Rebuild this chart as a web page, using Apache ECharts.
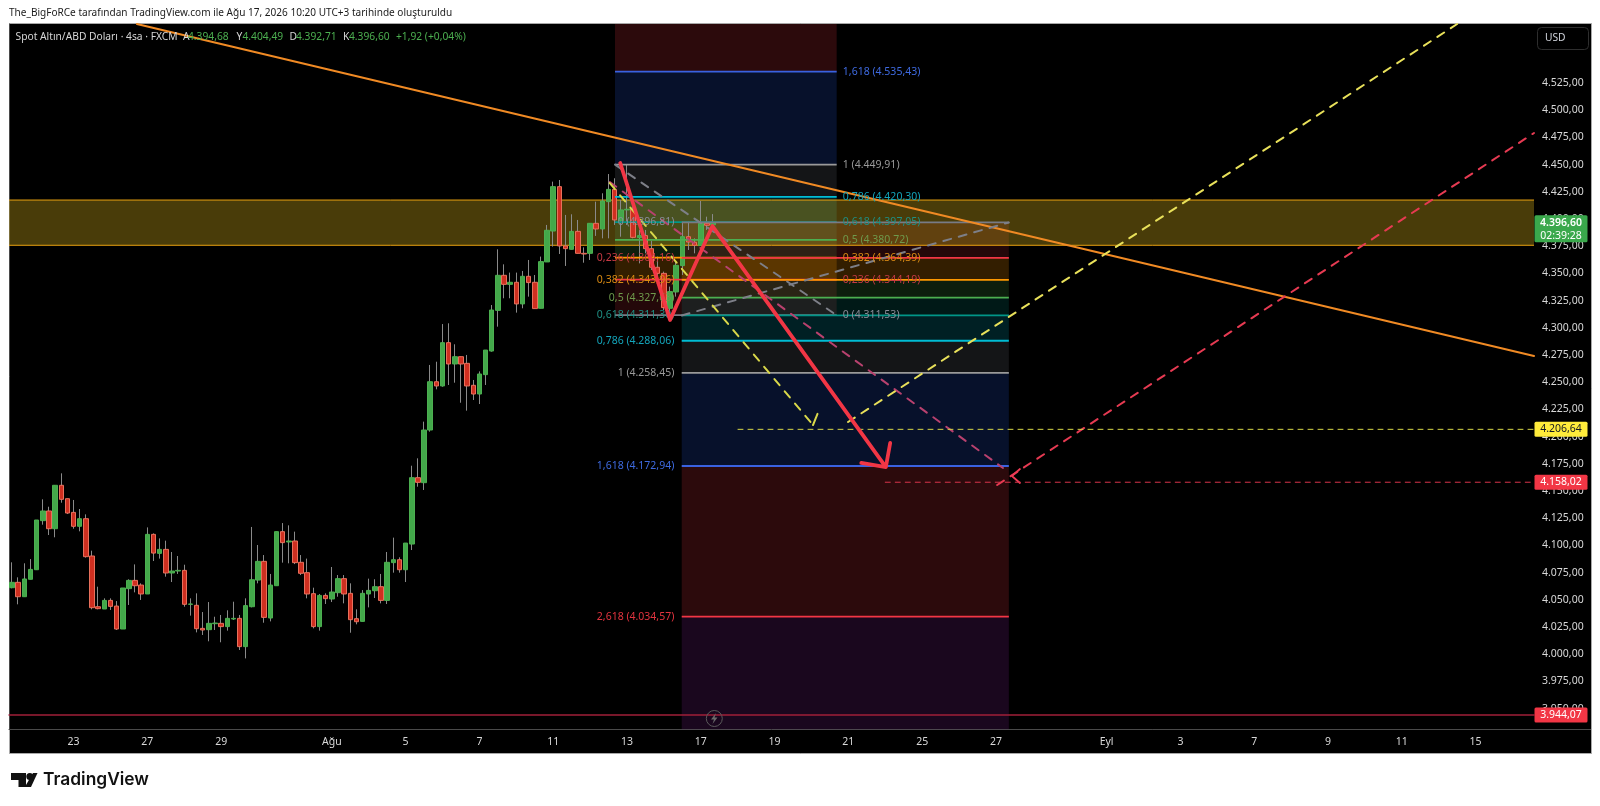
<!DOCTYPE html>
<html><head><meta charset="utf-8">
<style>html,body{margin:0;padding:0;background:#fff}#c{width:1600px;height:806px}</style>
<script src="https://cdn.jsdelivr.net/npm/echarts@6/dist/echarts.min.js"></script>
</head><body><div id="c"></div>
<script>
// ---- data ----
const barCount = 248;
const tickBars = [10,22,34,52,64,76,88,100,112,124,136,148,160,178,190,202,214,226,238];
const tickLabels = ['23','27','29','Ağu','5','7','11','13','17','19','21','25','27','Eyl','3','7','9','11','15'];
const priceTicks = [3950,3975,4000,4025,4050,4075,4100,4125,4150,4175,4200,4225,4250,4275,4300,4325,4350,4375,4400,4425,4450,4475,4500,4525];
const opens = [4061.1,4066.0,4052.8,4068.8,4077.6,4122.7,4131.6,4115.3,4155.2,4142.9,
4130.3,4117.5,4124.5,4090.2,4043.6,4041.5,4049.4,4044.2,4023.1,4060.2,
4067.8,4063.5,4055.3,4110.1,4092.6,4096.3,4074.6,4076.4,4077.0,4045.8,
4044.9,4023.7,4022.5,4028.0,4028.3,4025.3,4032.3,4032.9,4006.9,4043.6,
4068.1,4085.3,4033.2,4062.9,4112.6,4103.1,4104.0,4084.4,4074.9,4055.6,
4025.3,4054.0,4050.7,4056.5,4069.4,4055.9,4032.6,4030.1,4055.3,4058.3,
4062.0,4049.4,4084.1,4086.8,4077.6,4101.2,4162.2,4157.6,4206.0,4250.4,
4246.5,4286.3,4266.7,4273.4,4267.3,4247.1,4239.1,4256.9,4278.6,4316.0,
4348.2,4339.9,4341.8,4321.9,4347.3,4341.8,4317.9,4360.5,4388.9,4429.7,
4375.2,4372.1,4388.6,4368.4,4368.4,4396.0,4390.8,4415.9,4427.2,4398.5,
4408.3,4408.9,4382.8,4384.7,4372.7,4355.6,4350.0,4317.9,4332.9,4357.1,
4383.7,4378.6,4375.5,4396.0,4394.68];
const highs = [4084.4,4070.6,4083.5,4087.4,4123.3,4142.3,4135.5,4155.2,4166.2,4142.9,
4141.7,4133.4,4128.5,4095.1,4062.0,4051.3,4051.3,4048.8,4060.8,4068.8,
4082.5,4065.1,4116.5,4111.0,4106.4,4104.3,4093.9,4090.2,4082.2,4051.3,
4055.9,4038.7,4047.9,4034.4,4036.0,4040.3,4048.2,4036.0,4051.3,4116.9,
4100.3,4091.1,4073.7,4112.6,4120.5,4118.4,4112.6,4091.1,4087.8,4061.1,
4055.3,4055.9,4080.1,4072.7,4072.7,4065.1,4041.2,4058.9,4069.4,4068.8,
4073.7,4093.9,4107.1,4089.0,4102.1,4173.2,4180.0,4213.7,4265.8,4268.8,
4303.4,4304.1,4284.8,4273.4,4275.0,4252.0,4259.9,4279.5,4320.9,4372.1,
4358.3,4350.7,4350.7,4352.2,4362.3,4348.5,4365.4,4394.5,4434.3,4435.8,
4403.7,4404.3,4399.1,4373.9,4396.0,4415.9,4423.6,4441.3,4437.4,4417.4,
4449.6,4420.5,4389.9,4389.9,4380.0,4365.4,4351.6,4337.8,4360.8,4397.5,
4397.5,4382.2,4416.5,4402.1,4404.49];
const lows = [4060.5,4045.8,4052.8,4068.8,4077.6,4119.0,4109.5,4107.4,4139.2,4128.8,
4115.3,4112.9,4088.7,4041.2,4041.2,4041.5,4040.6,4022.2,4023.1,4045.2,
4056.8,4049.8,4055.3,4085.6,4087.8,4071.2,4066.3,4073.7,4043.6,4035.4,
4020.0,4017.6,4011.8,4022.2,4010.9,4021.6,4031.4,4003.8,3996.1,4043.0,
4065.1,4028.9,4030.1,4062.9,4084.1,4083.5,4082.8,4072.7,4051.3,4023.7,
4021.6,4046.1,4047.9,4052.8,4046.7,4019.7,4027.4,4030.1,4043.0,4051.6,
4046.7,4046.1,4074.9,4074.9,4066.3,4095.7,4153.9,4150.9,4204.5,4243.4,
4245.8,4247.4,4249.5,4231.1,4223.8,4233.6,4229.9,4247.4,4278.0,4301.0,
4327.1,4327.1,4313.9,4317.9,4328.6,4317.6,4317.9,4360.5,4374.6,4367.8,
4356.8,4372.1,4368.4,4359.8,4362.3,4384.4,4382.2,4382.2,4394.5,4383.7,
4394.5,4382.2,4359.2,4368.4,4353.1,4340.9,4316.3,4311.5,4328.6,4348.5,
4371.5,4368.4,4375.5,4389.9,4392.71];
const closes = [4066.0,4052.8,4069.1,4077.9,4123.3,4131.6,4115.3,4155.2,4142.3,4129.7,
4117.5,4124.5,4089.6,4042.7,4041.8,4049.4,4043.9,4023.1,4060.8,4067.8,
4062.9,4055.3,4110.1,4092.9,4096.3,4074.6,4076.4,4077.0,4045.8,4046.1,
4023.4,4022.2,4028.3,4028.6,4025.3,4032.9,4032.9,4006.9,4044.6,4068.4,
4085.3,4033.8,4063.5,4112.6,4102.5,4104.0,4084.1,4074.3,4055.3,4025.3,
4054.0,4051.0,4057.1,4069.4,4055.3,4031.7,4029.8,4055.9,4058.6,4062.0,
4049.4,4084.4,4086.8,4077.6,4102.1,4162.2,4157.9,4206.0,4250.4,4246.5,
4286.3,4266.7,4273.4,4266.7,4246.5,4239.1,4257.5,4279.5,4316.3,4348.2,
4339.9,4341.8,4321.9,4347.3,4341.5,4317.6,4360.8,4389.6,4429.7,4375.2,
4372.7,4388.6,4368.4,4367.8,4396.0,4390.8,4416.5,4427.2,4399.1,4408.3,
4408.9,4383.1,4384.7,4372.7,4355.6,4350.0,4318.5,4333.2,4357.4,4383.7,
4378.8,4375.8,4396.0,4394.2,4396.60];

// Fibonacci tools: levels and prices
const fibLeftLevels = [0,0.236,0.382,0.5,0.618,0.786,1,1.618];
const fibLeftPrices = [4311.53,4344.19,4364.39,4380.72,4397.05,4420.30,4449.91,4535.43];
const fibRightLevels = [0,0.236,0.382,0.5,0.618,0.786,1,1.618,2.618];
const fibRightPrices = [4396.81,4364.16,4343.96,4327.63,4311.30,4288.06,4258.45,4172.94,4034.57];
const fibLeftSpan = [98.55,134.6];
const fibRightSpan = [109.4,162.6];

// Drawn lines as [bar, price]
const priceMin = 3930.74, priceMax = 4579.2;
const zoneBand = [4375.8,4417.4];
const supportPrice = 3944.07;
const targetYellow = 4206.64, targetRed = 4158.02, lastPrice = 4396.60;
const orangeTrend = [[20.8,4579.2],[248,4274.0]];
const grayFall = [[98.55,4449.91],[134.6,4311.53]];
const grayRise = [[109.4,4311.3],[162.6,4396.81]];
const pinkFall = [[97.7,4433.9],[161.65,4171.1]];
const yellowFall = [[97.7,4433.0],[130.75,4210.6],[131.6,4222.5],[130.75,4210.6],[129.45,4210.6]];
const yellowRise = [[136.45,4213.4],[235.5,4579.2]];
const redRise = [[160.7,4155.5],[248,4479.0]];
const redHook = [[164.4,4170.2],[163.1,4163.7],[164.4,4157.3]];
const yellowLevel = [[118.55,targetYellow],[248,targetYellow]];
const redLevel = [[142.5,targetRed],[248,targetRed]];
const supportLine = [[0,supportPrice],[248,supportPrice]];
const mainPath = [[99.4,4451.4],[107.5,4307.1],[114.4,4393.5],[142.6,4172],[143.3,4194.1],[142.6,4172],[138.6,4175.7]];

// ---- helpers / styles ----
const FONT = '"Noto Sans", sans-serif';
const fmt = v => { const [a,b] = v.toFixed(2).split('.'); return a.replace(/\B(?=(\d{3})+$)/g,'.') + ',' + b; };
const lvl = v => String(v).replace('.',',');
const categories = Array.from({length:barCount},(_,i)=>{ const k=tickBars.indexOf(i); return k>=0?tickLabels[k]:'b'+i; });
const levelColors = ['#787b86','#f23645','#ff9800','#4caf50','#009688','#00bcd4','#9a9a9a','#3a62e0','#f23645'];
const labelColors = ['#8a8d98','#c73a44','#d98a12','#6f9a4c','#1f8f84','#13a5bb','#9a9a9a','#3e6ae0','#e2343f'];
const bandFills = ['rgba(242,54,69,.15)','rgba(255,152,0,.2)','rgba(76,175,80,.17)','rgba(0,150,136,.17)','rgba(0,188,212,.17)','rgba(120,123,134,.17)','rgba(41,98,255,.17)','rgba(242,54,69,.18)','rgba(156,39,176,.17)'];

const bands=[], bandColor=[];
fibLeftPrices.forEach((p,i)=>{ const next = i+1<fibLeftPrices.length?fibLeftPrices[i+1]:priceMax; bands.push([fibLeftSpan[0],fibLeftSpan[1],p,next]); bandColor.push(bandFills[i]); });
fibRightPrices.forEach((p,i)=>{ const next = i+1<fibRightPrices.length?fibRightPrices[i+1]:priceMin; bands.push([fibRightSpan[0],fibRightSpan[1],p,next]); bandColor.push(bandFills[i]); });

const levelLines=[], levelColor=[];
fibLeftPrices.forEach((p,i)=>{ levelLines.push([fibLeftSpan[0],fibLeftSpan[1],p]); levelColor.push(levelColors[i]); });
fibRightPrices.forEach((p,i)=>{ levelLines.push([fibRightSpan[0],fibRightSpan[1],p]); levelColor.push(levelColors[i]); });

const fibLabels=[];
fibLeftPrices.forEach((p,i)=>fibLabels.push({value:[135.6,p],name:lvl(fibLeftLevels[i])+' ('+fmt(p)+')',al:'left',col:labelColors[i]}));
fibRightPrices.forEach((p,i)=>fibLabels.push({value:[108.2,p],name:lvl(fibRightLevels[i])+' ('+fmt(p)+')',al:'right',col:labelColors[i]}));

const tags = [
 {p:targetYellow,bg:'#ffeb3b',fg:'#131722'},
 {p:targetRed,bg:'#f23645',fg:'#ffffff'},
 {p:supportPrice,bg:'#f23645',fg:'#ffffff'},
 {p:lastPrice,bg:'#3aa84c',fg:'#ffffff',sub:'02:39:28'}
];

const lineSeries = (name,data,color,width,dash,z) => ({
  type:'line',name,xAxisIndex:1,yAxisIndex:0,data,symbol:'none',silent:true,animation:false,z:z||4,
  lineStyle:{color,width,type:dash||'solid',cap:'round',join:'round'}
});

const option = {
  animation:false,
  backgroundColor:'#ffffff',
  title:{text:'The_BigFoRCe tarafından TradingView.com ile Ağu 17, 2026 10:20 UTC+3 tarihinde oluşturuldu',left:9,top:6,padding:0,
    textStyle:{color:'#1b1b1b',fontFamily:FONT,fontSize:10.05,fontWeight:'normal',lineHeight:14}},
  tooltip:{show:false},
  grid:{left:9,right:66,top:24,bottom:76.5,containLabel:false},
  xAxis:[
    {type:'category',data:categories,position:'bottom',
     axisLine:{show:true,lineStyle:{color:'#4a4a4a',width:1}},axisTick:{show:false},splitLine:{show:false},
     axisLabel:{color:'#d8d8d8',fontFamily:FONT,fontSize:10.5,margin:7,hideOverlap:false,
       interval:i=>tickBars.indexOf(i)>=0}},
    {type:'value',min:0,max:barCount,show:false,splitLine:{show:false}}
  ],
  yAxis:[{type:'value',position:'right',min:priceMin,max:priceMax,scale:true,
    axisLine:{show:true,lineStyle:{color:'#4a4a4a',width:1}},axisTick:{show:false},splitLine:{show:false},
    axisLabel:{color:'#d8d8d8',fontFamily:FONT,fontSize:10.5,margin:8,customValues:priceTicks,formatter:v=>fmt(v),showMinLabel:true,showMaxLabel:true}}],
  graphic:{elements:[
    {type:'rect',z:-10,silent:true,shape:{x:9.5,y:23.5,width:1582,height:730},style:{fill:'#000000',stroke:'#a8a8a8',lineWidth:1}},
    {type:'line',z:-5,silent:true,shape:{x1:1534,y1:729.5,x2:1591,y2:729.5},style:{stroke:'#4a4a4a',lineWidth:1}},
    {type:'rect',z:-5,silent:true,shape:{x:1537.5,y:27.5,width:51,height:22,r:4},style:{fill:'#000',stroke:'#2e2e2e',lineWidth:1}},
    {type:'text',z:-4,silent:true,style:{x:1545,y:38.5,text:'USD',fill:'#d1d4dc',font:'10.25px '+FONT,verticalAlign:'middle'}},
    {type:'text',z:20,silent:true,style:{x:15.5,y:37,text:'Spot Altın/ABD Doları · 4sa · FXCM',fill:'#d6d6d6',font:'10.25px '+FONT,verticalAlign:'middle'}},
    ...[['A',183,'#d6d6d6'],['4.394,68',188,'#4caf50'],['Y',236.5,'#d6d6d6'],['4.404,49',242.5,'#4caf50'],['D',289.5,'#d6d6d6'],['4.392,71',296,'#4caf50'],['K',343,'#d6d6d6'],['4.396,60',349,'#4caf50'],['+1,92 (+0,04%)',396,'#4caf50']]
      .map(([t,x,c])=>({type:'text',z:20,silent:true,style:{x,y:37,text:t,fill:c,font:'10.25px '+FONT,verticalAlign:'middle'}})),
    {type:'circle',z:20,silent:true,shape:{cx:714.3,cy:718.5,r:8},style:{fill:'rgba(0,0,0,0)',stroke:'#5a5a5a',lineWidth:1}},
    {type:'polygon',z:20,silent:true,shape:{points:[[716,713],[711,719.5],[714,719.5],[712.5,724],[717.5,717.5],[714.5,717.5]]},style:{fill:'#6a6a6a'}},
    {type:'polygon',silent:true,shape:{points:[[11,773],[26,773],[26,787],[18.5,787],[18.5,780],[11,780]]},style:{fill:'#111'}},
    {type:'circle',silent:true,shape:{cx:29.8,cy:776.6,r:3.5},style:{fill:'#111'}},
    {type:'polygon',silent:true,shape:{points:[[33,773],[37.5,773],[31,787],[24.8,787]]},style:{fill:'#111'}},
    {type:'text',silent:true,style:{x:43,y:780,text:'TradingView',fill:'#111',font:'600 17.4px Inter, '+FONT,verticalAlign:'middle'}}
  ]},
  series:[
    {type:'custom',name:'fib bands',xAxisIndex:1,yAxisIndex:0,z:1,silent:true,clip:true,data:bands,
     renderItem:(params,api)=>{
       const a=api.coord([api.value(0),api.value(2)]), b=api.coord([api.value(1),api.value(3)]);
       return {type:'rect',shape:{x:a[0],y:Math.min(a[1],b[1]),width:b[0]-a[0],height:Math.abs(b[1]-a[1])},style:{fill:bandColor[params.dataIndex]}};
     }},
    {type:'custom',name:'zone',xAxisIndex:1,yAxisIndex:0,z:1,silent:true,data:[[0,barCount,zoneBand[0],zoneBand[1]]],
     renderItem:(params,api)=>{
       const a=api.coord([api.value(0),api.value(3)]), b=api.coord([api.value(1),api.value(2)]);
       return {type:'group',children:[
         {type:'rect',shape:{x:a[0],y:a[1],width:b[0]-a[0],height:b[1]-a[1]},style:{fill:'rgba(236,195,30,.31)'}},
         {type:'line',shape:{x1:a[0],y1:a[1],x2:b[0],y2:a[1]},style:{stroke:'#e8a010',lineWidth:1}},
         {type:'line',shape:{x1:a[0],y1:b[1],x2:b[0],y2:b[1]},style:{stroke:'#e8a010',lineWidth:1}}
       ]};
     }},
    // wicks
    {type:'candlestick',name:'wicks',xAxisIndex:0,yAxisIndex:0,z:3,silent:true,barWidth:1,
     data:opens.map((o,i)=>[o,closes[i],lows[i],highs[i]]),
     itemStyle:{color:'#8a8a8a',color0:'#8a8a8a',borderColor:'#8a8a8a',borderColor0:'#8a8a8a',borderColorDoji:'#8a8a8a',borderWidth:1}},
    // bodies
    {type:'candlestick',name:'XAUUSD 4h',xAxisIndex:0,yAxisIndex:0,z:3,silent:true,barWidth:5,
     data:opens.map((o,i)=>[o,closes[i],Math.min(o,closes[i]),Math.max(o,closes[i])]),
     itemStyle:{color:'#43a84a',color0:'#cf2f20',borderColor:'#4caf50',borderColor0:'#e8705c',borderColorDoji:'#a0b8a0',borderWidth:1}},
    {type:'custom',name:'fib levels',xAxisIndex:1,yAxisIndex:0,z:4,silent:true,data:levelLines,
     renderItem:(params,api)=>{
       const a=api.coord([api.value(0),api.value(2)]), b=api.coord([api.value(1),api.value(2)]);
       return {type:'line',shape:{x1:a[0],y1:a[1],x2:b[0],y2:b[1]},style:{stroke:levelColor[params.dataIndex],lineWidth:1.8}};
     }},
    lineSeries('support',supportLine,'#a01f38',1.4),
    lineSeries('orange trend',orangeTrend,'#f08a24',2),
    lineSeries('gray fall',grayFall,'#7d7f88',2,[8,8]),
    lineSeries('gray rise',grayRise,'#7d7f88',2,[8,8]),
    lineSeries('pink fall',pinkFall,'#b8416e',2,[8,8]),
    lineSeries('yellow fall',yellowFall,'#d9d84a',2,[8,8]),
    lineSeries('yellow rise',yellowRise,'#e8e05a',2,[8,8]),
    lineSeries('red rise',redRise,'#e63a52',2,[8,8]),
    lineSeries('red hook',redHook,'#ef3b55',1.8),
    lineSeries('yellow level',yellowLevel,'#d6d648',1,[5,5]),
    lineSeries('red level',redLevel,'#d8354c',1,[5,5]),
    lineSeries('main path',mainPath,'#f23645',3.8,'solid',6),
    {type:'custom',name:'fib labels',xAxisIndex:1,yAxisIndex:0,z:5,silent:true,data:fibLabels,
     renderItem:(params,api)=>{
       const d=fibLabels[params.dataIndex], a=api.coord(d.value);
       return {type:'text',style:{x:a[0],y:a[1],text:d.name,fill:d.col,font:'10.5px '+FONT,align:d.al,verticalAlign:'middle'}};
     }},
    {type:'custom',name:'price tags',xAxisIndex:1,yAxisIndex:0,z:8,silent:true,clip:false,data:tags.map(t=>[barCount,t.p]),
     renderItem:(params,api)=>{
       const t=tags[params.dataIndex], a=api.coord([api.value(0),api.value(1)]);
       const top=t.sub?a[1]-7.5:a[1]-7.5, h=t.sub?27:15, x=a[0]+0.5;
       const kids=[{type:'rect',shape:{x,y:top,width:53,height:h,r:1.5},style:{fill:t.bg}},
         {type:'text',style:{x:x+26.5,y:a[1],text:fmt(t.p),fill:t.fg,font:(t.sub?'600 ':'')+'10.5px '+FONT,align:'center',verticalAlign:'middle'}}];
       if(t.sub) kids.push({type:'text',style:{x:x+26.5,y:a[1]+13,text:t.sub,fill:t.fg,font:'10.5px '+FONT,align:'center',verticalAlign:'middle'}});
       return {type:'group',children:kids};
     }}
  ]
};
const chart = echarts.init(document.getElementById('c'),null,{renderer:'canvas',width:1600,height:806});
chart.setOption(option);
</script></body></html>
